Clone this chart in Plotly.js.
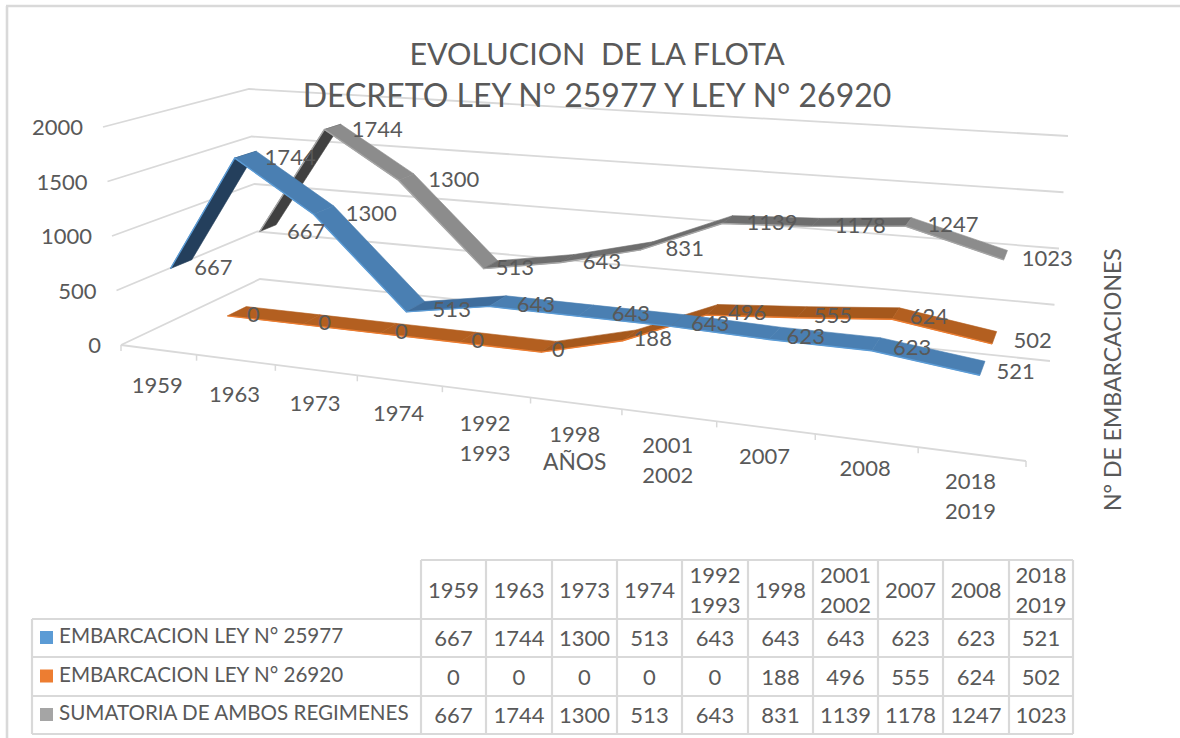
<!DOCTYPE html>
<html><head><meta charset="utf-8">
<script src="https://cdn.plot.ly/plotly-3.0.1.min.js"></script>
<style>html,body{margin:0;padding:0;background:#fff}#c{width:1180px;height:738px}</style>
</head><body><div id="c"></div>
<script>
const categories = ["1959","1963","1973","1974","1992\n1993","1998","2001\n2002","2007","2008","2018\n2019"];
const ley25977 = [667,1744,1300,513,643,643,643,623,623,521];
const ley26920 = [0,0,0,0,0,188,496,555,624,502];
const sumatoria = [667,1744,1300,513,643,831,1139,1178,1247,1023];
const valueTicks = [0,500,1000,1500,2000];
const name25977 = "EMBARCACION LEY N° 25977";
const name26920 = "EMBARCACION LEY N° 26920";
const nameSuma = "SUMATORIA DE AMBOS REGIMENES";

const FONT = "Lato, Carlito, 'Open Sans', sans-serif", TXT = "#595959", GRID = "#d9d9d9";
const styles = [
  {name:nameSuma, vals:sumatoria, d0:.75, d1:.88, up:"#404040", mid:"#6e6e6e", base:"#8c8c8c", edge:"#a5a5a5",
   nudge:[0,0,3,-14,-4,0,0,0,0,-3]},
  {name:name26920, vals:ley26920, d0:.47, d1:.61, up:"#8f4c18", mid:"#a5581c", base:"#b35f20", edge:"#ed7d31",
   nudge:[-9,-12,-12,-15,-16,-15,-3,-7,-5,0]},
  {name:name25977, vals:ley25977, d0:.12, d1:.26, up:"#243f5c", mid:"#3f6d9c", base:"#4a7fb2", edge:"#5b9bd5",
   nudge:[-6,0,3,-2,0,7,-6,-7,-2,-5]}
];

// projective view of the chart box: floor and ceiling quads of the 3-D plot (front-left, front-right, back-right, back-left)
function homography(p){
  const [x0,y0]=p[0],[x1,y1]=p[1],[x2,y2]=p[2],[x3,y3]=p[3];
  const dx1=x1-x2,dx2=x3-x2,sx=x0-x1+x2-x3,dy1=y1-y2,dy2=y3-y2,sy=y0-y1+y2-y3;
  const den=dx1*dy2-dx2*dy1,g=(sx*dy2-dx2*sy)/den,h=(dx1*sy-sx*dy1)/den;
  const a=x1-x0+g*x1,b=x3-x0+h*x3,d=y1-y0+g*y1,e=y3-y0+h*y3;
  return (u,v)=>{const w=g*u+h*v+1;return [(a*u+b*v+x0)/w,(d*u+e*v+y0)/w];};
}
const floorQ = homography([[121,345],[1026,461],[1050,361],[260,279]]);
const topQ   = homography([[103,127],[1054,206],[1068,136],[249,89]]);
const VMAX = 2000, N = categories.length;
function project(t,depth,val){
  const s=Math.sin(Math.PI*t), tw=t+(.013+.012*depth)*s;   // lens correction along the category axis
  const f=floorQ(tw,depth),c=topQ(tw,depth),k=val/VMAX;
  const lean=46*k*k*s*Math.pow(1-t,6);                     // tall points near the left wall lean less
  return [f[0]+(c[0]-f[0])*k+lean,f[1]+(c[1]-f[1])*k];
}
const catT = i => (i+.5)/N;

const traces=[];
function line(pts,color,width){
  traces.push({type:"scatter",mode:"lines",x:pts.map(p=>p[0]),y:pts.map(p=>p[1]),
    line:{color,width},hoverinfo:"skip",showlegend:false});
}
function labels(xs,ys,text,pos,size,color){
  traces.push({type:"scatter",mode:"text",x:xs,y:ys,text,textposition:pos,
    textfont:{family:FONT,size:size,color:color||TXT},hoverinfo:"skip",showlegend:false,cliponaxis:false});
}

// walls and floor
valueTicks.forEach(v=>line([project(0,0,v),project(0,1,v),project(1,1,v)],GRID,1.8));
line([project(0,0,0),project(1,0,0)],GRID,1.8);
for(let i=0;i<=N;i++){const p=project(i/N,0,0);line([p,[p[0],p[1]+6]],GRID,1.5);}

// ribbons
styles.forEach(s=>{
  for(let i=0;i<N-1;i++){
    const a=s.vals[i],b=s.vals[i+1],t0=catT(i),t1=catT(i+1);
    const poly=[project(t0,s.d0,a),project(t1,s.d0,b),project(t1,s.d1,b),project(t0,s.d1,a),project(t0,s.d0,a)];
    const col=b-a>=500?s.up:(b-a>0?s.mid:s.base);
    traces.push({type:"scatter",mode:"lines",x:poly.map(p=>p[0]),y:poly.map(p=>p[1]),fill:"toself",fillcolor:col,
      line:{color:col,width:.6},hoverinfo:"skip",showlegend:false,name:s.name});
  }
  line(s.vals.map((v,i)=>project(catT(i),s.d0,v)),s.edge,1.4);
});

// data labels
styles.forEach(s=>{
  const pts=s.vals.map((v,i)=>project(catT(i),(s.d0+s.d1)/2,v));
  labels(pts.map((p,i)=>p[0]+19+s.nudge[i]),pts.map(p=>p[1]+5),s.vals.map(String),"middle right",22);
});

// value axis labels
const vp=valueTicks.map(v=>project(0,0,v));
labels(vp.map(p=>p[0]-20),vp.map(p=>p[1]+2.5),valueTicks.map(String),"middle left",22);

// category axis labels (one text per line, Excel's wide line pitch)
const cx=[],cy=[],ct=[];
categories.forEach((c,i)=>{
  const p=project(catT(i),0,0),ls=c.split("\n"),base=p[1]+38-9*catT(i);
  ls.forEach((l,j)=>{cx.push(p[0]-1);cy.push(base+j*30);ct.push(l);});
});
labels(cx,cy,ct,"middle center",22);

// data table
const colX=[421,486,552,617,682,748,813,878,943,1009,1073], rowY=[560,619,657,696,734], tableLeft=32;
const shapes=[];
const seg=(x0,y0,x1,y1,w)=>shapes.push({type:"line",xref:"x",yref:"y",x0,y0,x1,y1,line:{color:GRID,width:w||2.2},layer:"below"});
seg(7,6,7,738,2.6); seg(6,6,1180,6,2.6);
colX.forEach(x=>seg(x,rowY[0],x,rowY[4]));
seg(colX[0],rowY[0],colX[10],rowY[0]);
for(let r=1;r<5;r++)seg(tableLeft,rowY[r],colX[10],rowY[r]);
seg(tableLeft,rowY[1],tableLeft,rowY[4]);
const hx=[],hy=[],ht=[];
categories.forEach((c,i)=>{
  const m=(colX[i]+colX[i+1])/2,ls=c.split("\n"),yc=(rowY[0]+rowY[1])/2+2.5;
  ls.forEach((l,j)=>{hx.push(m);hy.push(yc+(j-(ls.length-1)/2)*30);ht.push(l);});
});
labels(hx,hy,ht,"middle center",22);
[styles[2],styles[1],styles[0]].forEach((s,r)=>{
  const yc=(rowY[r+1]+rowY[r+2])/2;
  labels(s.vals.map((v,i)=>(colX[i]+colX[i+1])/2),s.vals.map(()=>yc+2.5),s.vals.map(String),"middle center",22);
  labels([59],[yc],[s.name],"middle right",20.6);
  shapes.push({type:"rect",xref:"x",yref:"y",x0:40,x1:53,y0:yc-7,y1:yc+6,fillcolor:s.edge,line:{width:0},layer:"below"});
});

const layout={
  width:1180,height:738,margin:{l:0,r:0,t:0,b:0},paper_bgcolor:"#fff",plot_bgcolor:"#fff",showlegend:false,
  title:{text:"<span style=\"font-size:30.5px\">EVOLUCION  DE LA FLOTA</span><br>DECRETO LEY N° 25977 Y LEY N° 26920",x:597/1180,xanchor:"center",y:1-65/738,yanchor:"top",
    font:{family:FONT,size:32,color:TXT}},
  xaxis:{visible:false,range:[0,1180],fixedrange:true},
  yaxis:{visible:false,range:[738,0],fixedrange:true},
  shapes,
  annotations:[
    {x:574,y:461,xref:"x",yref:"y",text:"AÑOS",showarrow:false,font:{family:FONT,size:22.8,color:TXT}},
    {x:1112,y:380,xref:"x",yref:"y",text:"N° DE EMBARCACIONES",textangle:-90,showarrow:false,font:{family:FONT,size:23,color:TXT}}
  ]
};
Plotly.newPlot("c",traces,layout,{displayModeBar:false,staticPlot:true});
</script></body></html>
